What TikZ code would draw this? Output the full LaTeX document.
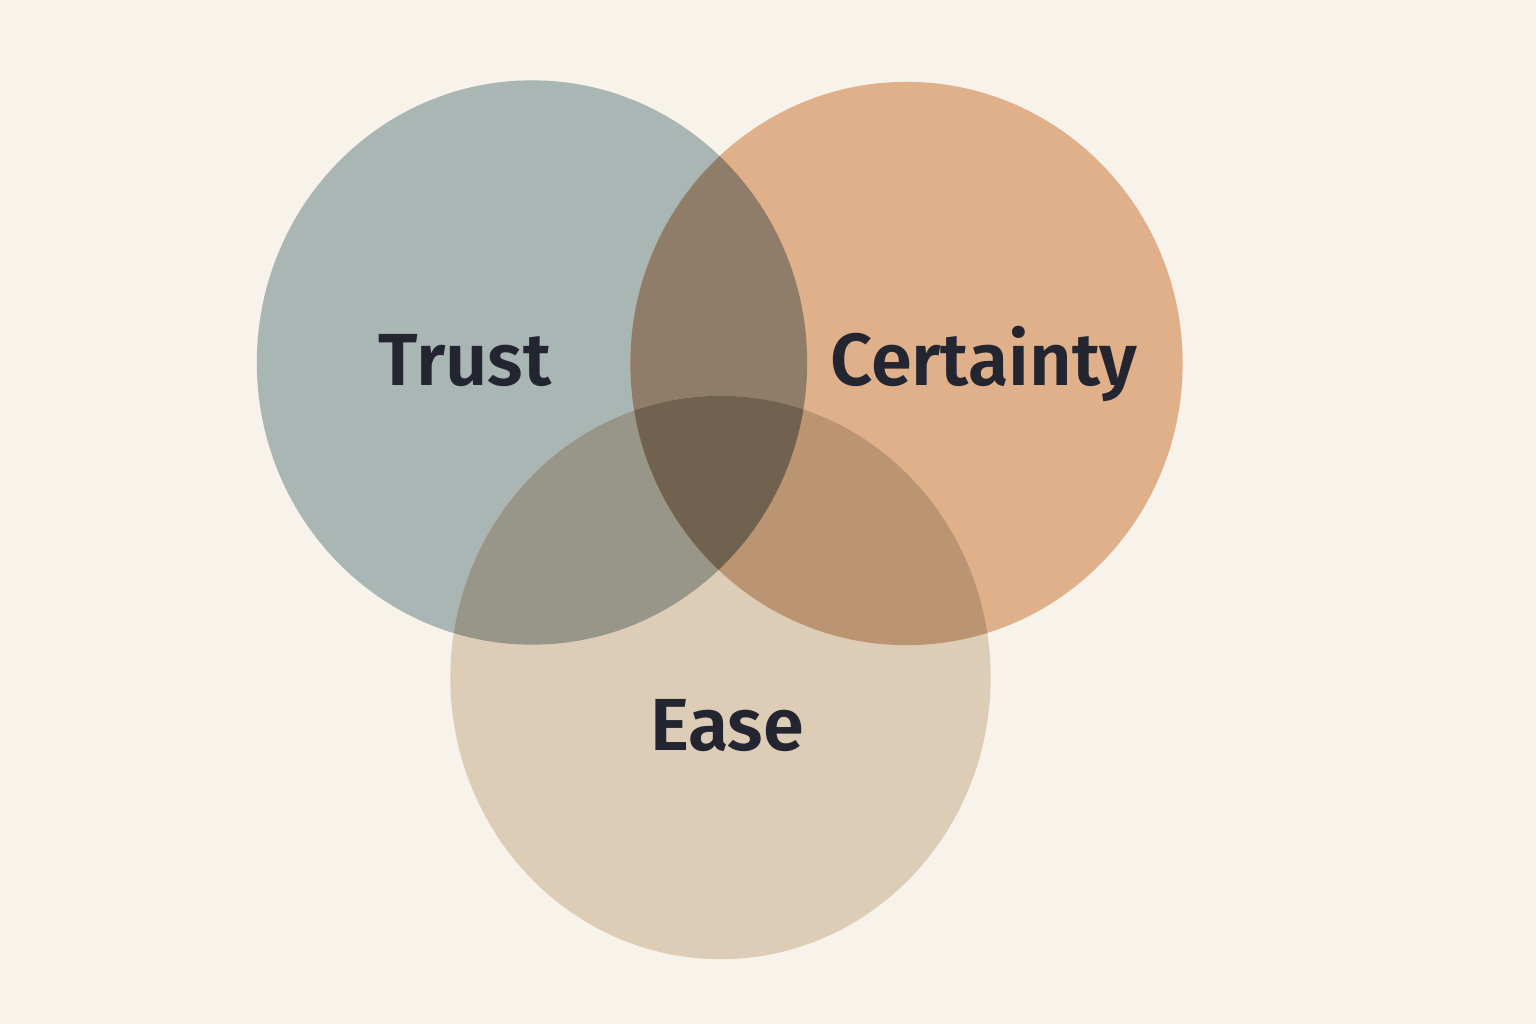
\documentclass[tikz,border=0pt]{standalone}
\usepackage{fontspec}
\setmainfont{Fira Sans}
\IfFontExistsTF{Fira Sans SemiBold}
  {\newfontfamily\labelfont{Fira Sans SemiBold}}
  {\newfontfamily\labelfont{Fira Sans}[UprightFont=*Bold]}
\definecolor{paper}{RGB}{247,242,234}
\definecolor{trustfill}{RGB}{170,182,180}
\definecolor{certfill}{RGB}{224,176,138}
\definecolor{easefill}{RGB}{221,204,182}
\definecolor{tcfill}{RGB}{143,125,106}
\definecolor{tefill}{RGB}{152,149,137}
\definecolor{cefill}{RGB}{187,148,113}
\definecolor{allfill}{RGB}{113,97,79}
\definecolor{ink}{RGB}{35,37,48}
\tikzset{
  setlabel/.style={text=ink, font=\labelfont\fontsize{21}{26}\selectfont, anchor=base},
}
\begin{document}
\begin{tikzpicture}[x=0.01cm,y=-0.01cm]
\fill[paper] (0,0) rectangle (1536,1024);
\useasboundingbox (0,0) rectangle (1536,1024);

\coordinate (T) at (532,362.5);
\coordinate (C) at (906.5,363.5);
\coordinate (E) at (720.5,677.5);
\def\tset{(T) ellipse[x radius=2.75cm, y radius=2.82cm]}
\def\cset{(C) ellipse[x radius=2.76cm, y radius=2.815cm]}
\def\eset{(E) ellipse[x radius=2.70cm, y radius=2.815cm]}

% the three sets
\fill[trustfill] \tset;
\fill[certfill] \cset;
\fill[easefill] \eset;

% pairwise overlaps
\begin{scope}
\clip \tset;
\fill[tcfill] \cset;
\fill[tefill] \eset;
\end{scope}
\begin{scope}
\clip \cset;
\fill[cefill] \eset;
\end{scope}

% middle
\begin{scope}
\clip \tset;
\clip \cset;
\fill[allfill] \eset;
\end{scope}

\node[setlabel] (trust) at (465,385) {Trust};
\node[setlabel] (certainty) at (984,385) {Certainty};
\node[setlabel] (ease) at (727,750) {Ease};
\end{tikzpicture}
\end{document}
